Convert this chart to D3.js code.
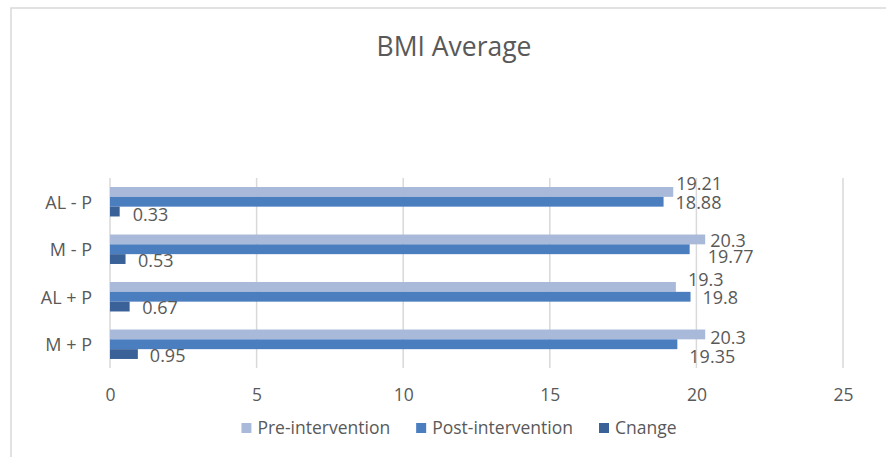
<!DOCTYPE html>
<html><head><meta charset="utf-8">
<script src="https://cdn.jsdelivr.net/npm/d3@7"></script>
<style>html,body{margin:0;padding:0;background:#fff;}svg{display:block;}</style>
</head><body>
<svg id="chart" width="886" height="457"></svg>
<script>
const categories = ["AL - P", "M - P", "AL + P", "M + P"];
const seriesNames = ["Pre-intervention", "Post-intervention", "Cnange"];
const preValues = [19.21, 20.3, 19.3, 20.3];
const postValues = [18.88, 19.77, 19.8, 19.35];
const changeValues = [0.33, 0.53, 0.67, 0.95];
const tickValues = [0, 5, 10, 15, 20, 25];
const titleText = "BMI Average";

// label nudges (dx, dy) per series per category, to mimic manual label placement
const labelNudge = [
  [[3,-8],[5,1.5],[12,-7.5],[5,3]],
  [[12,0.5],[18,7.5],[12,1],[12,12]],
  [[13,3],[12.5,2],[12.5,1.5],[12,1.5]]
];

const colors = ["#A9B9DA", "#4A7EBF", "#3B6298"];
const textColor = "#595959";
const font = "'Open Sans', sans-serif";
const seriesValues = [preValues, postValues, changeValues];

const svg = d3.select("#chart");
svg.append("rect").attr("x", 11).attr("y", 8).attr("width", 900).attr("height", 500)
  .attr("fill", "#fff").attr("stroke", "#D9D9D9").attr("stroke-width", 1.5);

svg.append("text").attr("x", 454).attr("y", 56).attr("text-anchor", "middle")
  .attr("font-family", font).attr("font-size", 26.5).attr("fill", textColor).text(titleText);

const x = d3.scaleLinear().domain([0, 25]).range([110, 843]);
const y = d3.scaleBand().domain(categories).range([178, 368]).paddingInner(0.38).paddingOuter(0.19);
const ys = d3.scaleBand().domain(d3.range(3)).range([0, y.bandwidth()]);

// gridlines
svg.append("g").selectAll("line").data(tickValues).join("line")
  .attr("x1", d => x(d)).attr("x2", d => x(d)).attr("y1", 178).attr("y2", 368)
  .attr("stroke", "#D9D9D9").attr("stroke-width", 1.5);

// x axis labels
const xAxis = d3.axisBottom(x).tickValues(tickValues).tickSize(0).tickPadding(0);
const gx = svg.append("g").attr("transform", "translate(0,401)").call(xAxis);
gx.select(".domain").remove();
gx.selectAll("text").attr("font-family", font).attr("font-size", 17.5).attr("fill", textColor).attr("dy", 0);

// y axis labels
const yAxis = d3.axisLeft(y).tickSize(0).tickPadding(0);
const gy = svg.append("g").attr("transform", "translate(92,1)").call(yAxis);
gy.select(".domain").remove();
gy.selectAll("text").attr("font-family", font).attr("font-size", 18).attr("fill", textColor);

// bars
seriesValues.forEach((vals, si) => {
  const g = svg.append("g");
  g.selectAll("rect").data(vals).join("rect")
    .attr("x", x(0)).attr("y", (d, i) => y(categories[i]) + ys(si))
    .attr("width", d => x(d) - x(0)).attr("height", ys.bandwidth())
    .attr("fill", colors[si]);
  g.selectAll("text").data(vals).join("text")
    .attr("x", (d, i) => x(d) + labelNudge[si][i][0])
    .attr("y", (d, i) => y(categories[i]) + ys(si) + ys.bandwidth() / 2 + labelNudge[si][i][1])
    .attr("dy", "0.35em")
    .attr("font-family", font).attr("font-size", 18).attr("fill", textColor)
    .text(d => d);
});

// legend
const leg = svg.append("g");
const items = leg.selectAll("g").data(seriesNames).join("g");
items.append("rect").attr("width", 10).attr("height", 10).attr("y", -5).attr("fill", (d, i) => colors[i]);
items.append("text").attr("x", 16).attr("dy", "0.35em").attr("font-family", font)
  .attr("font-size", 17.5).attr("fill", textColor).text(d => d);
let cx = 0;
const gap = 26;
items.each(function () {
  const w = this.getBBox().width;
  d3.select(this).attr("transform", `translate(${cx},0)`);
  cx += w + gap;
});
const total = cx - gap;
leg.attr("transform", `translate(${459 - total / 2},428)`);
</script>
</body></html>
